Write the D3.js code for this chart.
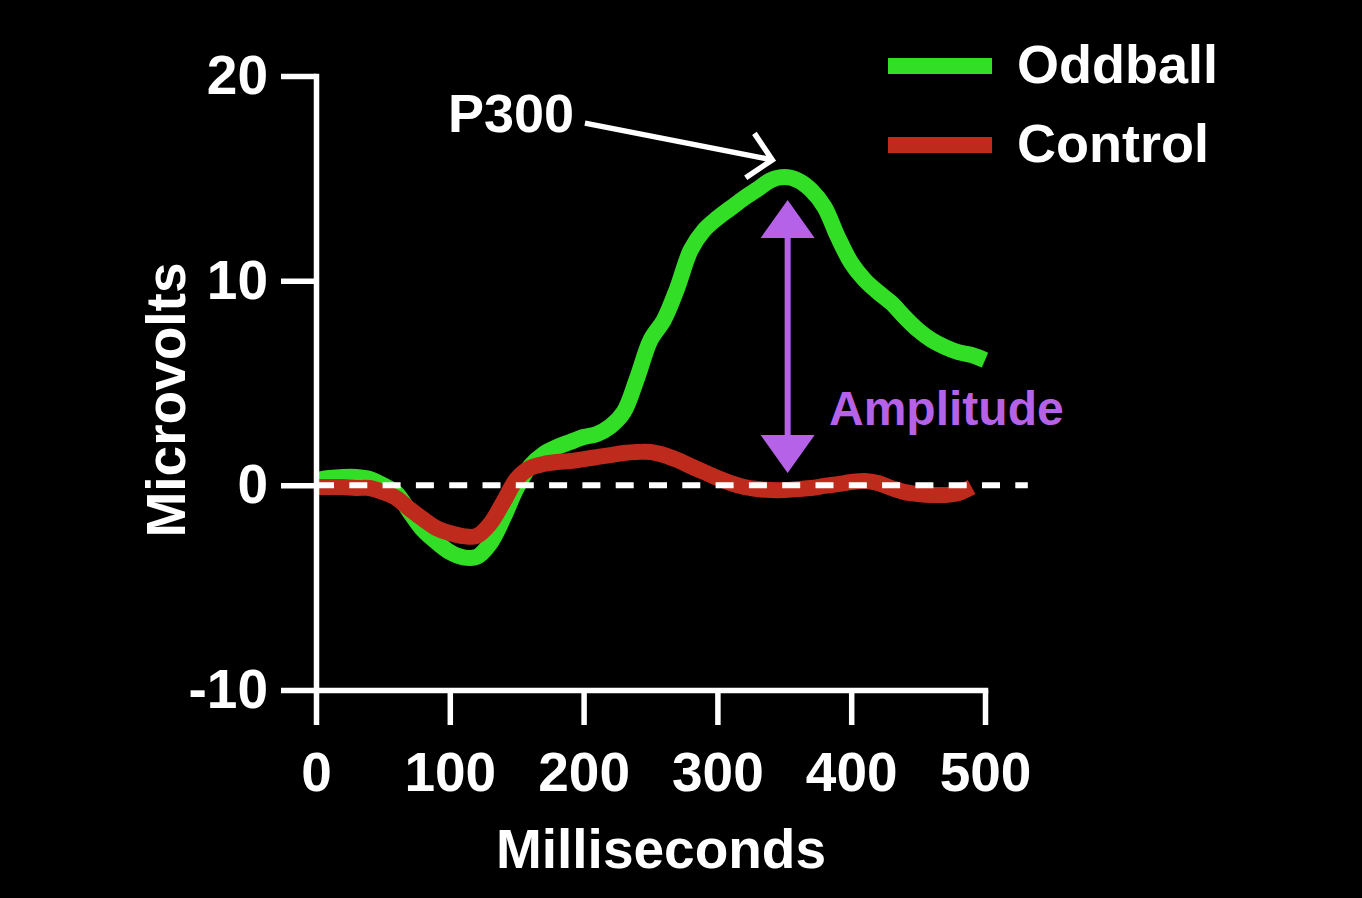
<!DOCTYPE html>
<html>
<head>
<meta charset="utf-8">
<script src="https://cdn.jsdelivr.net/npm/d3@7"></script>
<style>
  html, body { margin: 0; padding: 0; background: #000; }
  svg { display: block; }
</style>
</head>
<body>
<svg id="chart" width="1362" height="898"></svg>
<script>
// ---------- data ----------
const timesMs = [0,10,20,30,40,50,60,70,80,90,100,110,120,130,140,150,160,170,180,190,200,
  210,220,230,240,250,260,270,280,290,300,310,320,330,340,350,360,370,380,390,400,
  410,420,430,440,450,460,470,480,490,500];

const oddballUv = [0.26,0.36,0.41,0.41,0.31,0.01,-0.38,-1.30,-2.18,-2.77,-3.26,-3.52,-3.50,-2.85,-1.60,-0.13,
  0.94,1.53,1.87,2.12,2.36,2.51,2.88,3.58,5.24,7.10,8.08,9.64,11.49,12.47,13.06,13.55,14.04,14.47,14.91,15.06,
  14.91,14.43,13.60,12.14,10.87,10.04,9.44,8.91,8.22,7.59,7.10,6.76,6.51,6.37,6.12];

const controlUv = [-0.08,-0.08,-0.08,-0.13,-0.13,-0.33,-0.62,-1.16,-1.65,-2.09,-2.33,-2.48,-2.48,-1.89,-0.82,0.31,
  0.85,1.04,1.14,1.19,1.28,1.38,1.48,1.58,1.63,1.63,1.48,1.24,0.94,0.65,0.36,0.11,-0.08,-0.18,-0.23,-0.23,
  -0.18,-0.13,-0.03,0.06,0.16,0.21,0.11,-0.13,-0.33,-0.42,-0.47,-0.47,-0.38,-0.08];

const seriesNames = ["Oddball", "Control"];
const xTickValues = [0, 100, 200, 300, 400, 500];
const yTickValues = [-10, 0, 10, 20];
const xTitle = "Milliseconds";
const yTitle = "Microvolts";

// annotations (in data units)
const p300Label = "P300";
const p300Arrow = { fromMs: 201, fromUv: 17.7, toMs: 341, toUv: 15.9 };
const amplitudeLabel = "Amplitude";
const amplitudeArrow = { ms: 352.5, topUv: 13.94, bottomUv: 0.6 };
const zeroLineEndMs = 532;

// ---------- styles ----------
const GREEN = "#33de26";
const RED = "#be2a1c";
const PURPLE = "#b662e8";
const FONT = "'Liberation Sans', Arial, Helvetica, sans-serif";

const svg = d3.select("#chart");
svg.append("rect").attr("width", 1362).attr("height", 898).attr("fill", "#000");

const x = d3.scaleLinear().domain([0, 500]).range([316, 985]);
const y = d3.scaleLinear().domain([-10, 20]).range([690, 76]);

// ---------- lines ----------
const line = d3.line()
  .x(d => x(d[0]))
  .y(d => y(d[1]))
  .curve(d3.curveCatmullRom.alpha(0.5));

const oddballData = timesMs.map((t, i) => [t, oddballUv[i]]);
const controlData = controlUv.map((v, i) => [timesMs[i], v]);

svg.append("path").datum(oddballData)
  .attr("d", line).attr("fill", "none")
  .attr("stroke", GREEN).attr("stroke-width", 16)
  .attr("stroke-linecap", "butt").attr("stroke-linejoin", "round");

svg.append("path").datum(controlData)
  .attr("d", line).attr("fill", "none")
  .attr("stroke", RED).attr("stroke-width", 16)
  .attr("stroke-linecap", "butt").attr("stroke-linejoin", "round");

// zero dashed line
svg.append("line")
  .attr("x1", x(0)).attr("x2", x(zeroLineEndMs))
  .attr("y1", y(0)).attr("y2", y(0))
  .attr("stroke", "#fff").attr("stroke-width", 6)
  .attr("stroke-dasharray", "18,15.3");

// ---------- axes ----------
function styleAxis(g) {
  g.select(".domain").attr("stroke", "#fff").attr("stroke-width", 5.5).attr("stroke-linecap", "square");
  g.selectAll(".tick line").attr("stroke", "#fff").attr("stroke-width", 5.5);
  g.selectAll(".tick text").attr("fill", "#fff")
    .style("font-family", FONT).style("font-weight", "bold").style("font-size", "55px");
}

const yAxis = svg.append("g").attr("transform", `translate(${x(0)},0)`)
  .call(d3.axisLeft(y).tickValues(yTickValues).tickSize(35).tickSizeOuter(0).tickPadding(13)
    .tickFormat(d => String(d)));
styleAxis(yAxis);

const xAxis = svg.append("g").attr("transform", `translate(0,${y(-10)})`)
  .call(d3.axisBottom(x).tickValues(xTickValues).tickSize(35).tickSizeOuter(0).tickPadding(27)
    .tickFormat(d => String(d)));
styleAxis(xAxis);

// axis titles
svg.append("text")
  .attr("x", 661).attr("y", 868)
  .attr("text-anchor", "middle")
  .attr("fill", "#fff")
  .style("font-family", FONT).style("font-weight", "bold").style("font-size", "55px")
  .text(xTitle);

svg.append("text")
  .attr("transform", "translate(185,400) rotate(-90)")
  .attr("text-anchor", "middle")
  .attr("fill", "#fff")
  .style("font-family", FONT).style("font-weight", "bold").style("font-size", "55px")
  .text(yTitle);

// ---------- legend ----------
const legendColors = [GREEN, RED];
const legendY = [66, 145];
seriesNames.forEach((name, i) => {
  svg.append("line")
    .attr("x1", 888).attr("x2", 992)
    .attr("y1", legendY[i]).attr("y2", legendY[i])
    .attr("stroke", legendColors[i]).attr("stroke-width", 16);
  svg.append("text")
    .attr("x", 1017).attr("y", legendY[i] + 17)
    .attr("fill", "#fff")
    .style("font-family", FONT).style("font-weight", "bold").style("font-size", "54px")
    .text(name);
});

// ---------- P300 annotation ----------
svg.append("text")
  .attr("x", 448).attr("y", 132)
  .attr("fill", "#fff")
  .style("font-family", FONT).style("font-weight", "bold").style("font-size", "54px")
  .text(p300Label);

const ax1 = x(p300Arrow.fromMs), ay1 = y(p300Arrow.fromUv);
const ax2 = x(p300Arrow.toMs), ay2 = y(p300Arrow.toUv);
const ang = Math.atan2(ay1 - ay2, ax1 - ax2);
const armLen = 32, armAng = 45 * Math.PI / 180;
const arm1 = [ax2 + armLen * Math.cos(ang + armAng), ay2 + armLen * Math.sin(ang + armAng)];
const arm2 = [ax2 + armLen * Math.cos(ang - armAng), ay2 + armLen * Math.sin(ang - armAng)];
svg.append("path")
  .attr("d", `M${ax1},${ay1}L${ax2},${ay2}M${arm1[0]},${arm1[1]}L${ax2},${ay2}L${arm2[0]},${arm2[1]}`)
  .attr("fill", "none").attr("stroke", "#fff").attr("stroke-width", 5.5)
  .attr("stroke-linecap", "butt").attr("stroke-linejoin", "miter");

// ---------- Amplitude annotation ----------
const amx = x(amplitudeArrow.ms);
const topTip = y(amplitudeArrow.topUv), botTip = y(amplitudeArrow.bottomUv);
const headLen = 38, headHalf = 27;
svg.append("line")
  .attr("x1", amx).attr("x2", amx)
  .attr("y1", topTip + headLen - 2).attr("y2", botTip - headLen + 2)
  .attr("stroke", PURPLE).attr("stroke-width", 6);
svg.append("path")
  .attr("d", `M${amx},${topTip}L${amx + headHalf},${topTip + headLen}L${amx - headHalf},${topTip + headLen}Z`)
  .attr("fill", PURPLE);
svg.append("path")
  .attr("d", `M${amx},${botTip}L${amx + headHalf},${botTip - headLen}L${amx - headHalf},${botTip - headLen}Z`)
  .attr("fill", PURPLE);

svg.append("text")
  .attr("x", 829).attr("y", 425)
  .attr("fill", PURPLE)
  .style("font-family", FONT).style("font-weight", "bold").style("font-size", "48px")
  .text(amplitudeLabel);
</script>
</body>
</html>
